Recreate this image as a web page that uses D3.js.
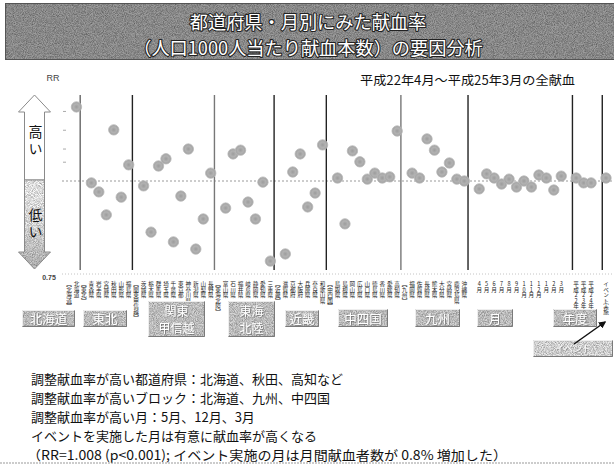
<!DOCTYPE html>
<html><head><meta charset="utf-8">
<script src="https://cdn.jsdelivr.net/npm/d3@7/dist/d3.min.js"></script>
<style>
html,body{margin:0;padding:0;background:#fff;}
svg{display:block;font-family:"Noto Sans CJK JP","Noto Sans",sans-serif;}
</style></head><body>
<svg id="chart" width="614" height="466"></svg>
<script>
// ---- data ----
const titleLines = ["都道府県・月別にみた献血率", "（人口1000人当たり献血本数）の要因分析"];
const periodNote = "平成22年4月～平成25年3月の全献血";
const blockNames = ["北海道", "東北", "関東甲信越", "東海北陸", "近畿", "中四国", "九州"];
const blockPrefs = [
  ["北海道"],
  ["青森", "岩手", "宮城", "秋田", "山形", "福島"],
  ["茨城", "栃木", "群馬", "埼玉", "千葉", "東京", "神奈川", "新潟", "山梨", "長野"],
  ["富山", "石川", "福井", "岐阜", "静岡", "愛知", "三重"],
  ["滋賀", "京都", "大阪", "兵庫", "奈良", "和歌山"],
  ["鳥取", "島根", "岡山", "広島", "山口", "徳島", "香川", "愛媛", "高知"],
  ["福岡", "佐賀", "長崎", "熊本", "大分", "宮崎", "鹿児島", "沖縄"]
];
const prefRR = [
  1.197,
  0.995, 0.971, 0.910, 1.136, 0.957, 1.043,
  0.987, 0.864, 1.040, 1.059, 0.838, 0.960, 1.085, 0.819, 0.899, 1.021,
  0.928, 1.072, 1.082, 0.944, 0.899, 0.997, 0.787,
  0.806, 1.024, 1.072, 0.931, 0.968, 1.096,
  1.008, 0.886, 1.080, 1.051, 1.005, 1.021, 1.008, 1.011, 1.133,
  1.021, 1.008, 1.112, 1.082, 1.024, 1.048, 1.005, 1.000
];
const monthNames = ["4月", "5月", "6月", "7月", "8月", "9月", "10月", "11月", "12月", "1月", "2月", "3月"];
const monthRR = [0.979, 1.019, 1.008, 0.992, 1.005, 0.984, 1.000, 0.984, 1.016, 1.008, 0.976, 1.013];
const yearNames = ["平成22年度", "平成23年度", "平成24年度"];
const yearRR = [1.008, 0.995, 0.995];
const eventName = "イベント実施";
const eventRR = 1.008;
const yDomain = [0.75, 1.25];
const yMinorTicks = [1.05, 1.085, 1.135, 1.185];
const bottomTickLabel = "0.75";
const arrowWords = ["高い", "低い"];
const tagNames = ["北海道", "東北", "関東\n甲信越", "東海\n北陸", "近畿", "中四国", "九州", "月", "年度"];
const eventTag = "イベント";
const summaryLines = [
  "調整献血率が高い都道府県：北海道、秋田、高知など",
  "調整献血率が高いブロック：北海道、九州、中四国",
  "調整献血率が高い月：5月、12月、3月",
  "イベントを実施した月は有意に献血率が高くなる",
  "（RR=1.008 (p<0.001); イベント実施の月は月間献血者数が 0.8% 増加した）"
];

// ---- category axis: block headers, prefectures, months, years, event ----
const cats = [];
let pi = 0;
blockNames.forEach((b, bi) => {
  cats.push({id: "h" + bi, label: "【" + b + "】", rr: null, sep: bi > 0});
  blockPrefs[bi].forEach(p => {
    const suffix = p === "北海道" ? "" : (p === "東京" ? "都" : (p === "京都" || p === "大阪" ? "府" : "県"));
    cats.push({id: "p" + pi, label: p + suffix, rr: prefRR[pi]});
    pi++;
  });
});
cats.push({id: "gm", label: "", rr: null, sep: true});
monthNames.forEach((m, i) => cats.push({id: "m" + i, label: m, rr: monthRR[i]}));
cats.push({id: "gy", label: "", rr: null});
yearNames.forEach((y, i) => cats.push({id: "y" + i, label: y, rr: yearRR[i], sep: i === 0}));
cats.push({id: "ge", label: "", rr: null});
cats.push({id: "ev", label: eventName, rr: eventRR, sep: true});

const svg = d3.select("#chart");
const defs = svg.append("defs");

// fine grain texture for the shaded panels
const grain = defs.append("filter").attr("id", "grain")
  .attr("x", "0%").attr("y", "0%").attr("width", "100%").attr("height", "100%")
  .attr("color-interpolation-filters", "sRGB");
grain.append("feTurbulence").attr("type", "fractalNoise").attr("baseFrequency", 1.1)
  .attr("numOctaves", 2).attr("seed", 4).attr("result", "noise");
grain.append("feColorMatrix").attr("in", "noise").attr("type", "saturate").attr("values", 0).attr("result", "gray");
const ct = grain.append("feComponentTransfer").attr("in", "gray").attr("result", "g2");
["feFuncR", "feFuncG", "feFuncB"].forEach(f => ct.append(f).attr("type", "linear").attr("slope", 0.9).attr("intercept", 0.42));
ct.append("feFuncA").attr("type", "linear").attr("slope", 0).attr("intercept", 1);
grain.append("feBlend").attr("in", "SourceGraphic").attr("in2", "g2").attr("mode", "multiply").attr("result", "b");
grain.append("feComposite").attr("in", "b").attr("in2", "SourceGraphic").attr("operator", "in");

// soft shadow under the tag captions
const shade = defs.append("filter").attr("id", "shade").attr("x", "-20%").attr("y", "-30%").attr("width", "140%").attr("height", "160%");
shade.append("feDropShadow").attr("dx", 0.7).attr("dy", 0.7).attr("stdDeviation", 0.3)
  .attr("flood-color", "#6e6e6e").attr("flood-opacity", 1);

const dotGrad = defs.append("radialGradient").attr("id", "dotGrad");
dotGrad.append("stop").attr("offset", "0%").attr("stop-color", "#9c9c9c");
dotGrad.append("stop").attr("offset", "55%").attr("stop-color", "#b2b2b2");
dotGrad.append("stop").attr("offset", "100%").attr("stop-color", "#a0a0a0");

const lowGrad = defs.append("linearGradient").attr("id", "lowGrad").attr("x1", 0).attr("y1", 0).attr("x2", 0).attr("y2", 1);
lowGrad.append("stop").attr("offset", "0%").attr("stop-color", "#ffffff");
lowGrad.append("stop").attr("offset", "45%").attr("stop-color", "#f6f6f6");
lowGrad.append("stop").attr("offset", "100%").attr("stop-color", "#c4c4c4");

// ---- title banner ----
svg.append("rect").attr("x", 5).attr("y", 3).attr("width", 614).attr("height", 57)
  .attr("fill", "#9c9c9c").attr("filter", "url(#grain)");
svg.append("rect").attr("x", 5.5).attr("y", 3.5).attr("width", 614).attr("height", 56)
  .attr("fill", "none").attr("stroke", "#555").attr("stroke-width", 1);
svg.selectAll("text.title").data(titleLines).join("text").attr("class", "title")
  .attr("x", 308).attr("y", (d, i) => 20.5 + i * 26.5)
  .attr("text-anchor", "middle").attr("dominant-baseline", "central")
  .attr("font-size", 18.2).attr("fill", "#fff").attr("stroke", "#222").attr("stroke-width", 2.2)
  .attr("paint-order", "stroke").attr("stroke-linejoin", "round").text(d => d);

// ---- scales ----
const x = d3.scalePoint().domain(cats.map(c => c.id)).range([69, 606]);
const y = d3.scaleLinear().domain(yDomain).range([275, 87]);

// headings
svg.append("text").attr("x", 53).attr("y", 78).attr("text-anchor", "middle").attr("dominant-baseline", "central")
  .attr("font-size", 9).attr("fill", "#444").attr("font-family", "Liberation Sans, Arial, sans-serif").text("RR");
svg.append("text").attr("x", 360).attr("y", 79).attr("dominant-baseline", "central")
  .attr("font-size", 12.5).attr("fill", "#111").attr("textLength", 215).attr("lengthAdjust", "spacingAndGlyphs")
  .text(periodNote);

// ---- high/low arrow ----
const ax = 34.5, aTop = 95, aHead = 112, aMid = 180, aLowHead = 252, aBot = 269, hw = 16, sw = 10;
const lowPath = `M${ax - sw},${aMid}L${ax + sw},${aMid}L${ax + sw},${aLowHead}L${ax + hw},${aLowHead}L${ax},${aBot}L${ax - hw},${aLowHead}L${ax - sw},${aLowHead}Z`;
svg.append("path").attr("d", `M${ax},${aTop}L${ax + hw},${aHead}L${ax + sw},${aHead}L${ax + sw},${aMid}L${ax - sw},${aMid}L${ax - sw},${aHead}L${ax - hw},${aHead}Z`)
  .attr("fill", "#fff").attr("stroke", "#8a8a8a").attr("stroke-width", 1);
svg.append("path").attr("d", lowPath).attr("fill", "url(#lowGrad)").attr("filter", "url(#grain)");
svg.append("path").attr("d", lowPath).attr("fill", "none").attr("stroke", "#8a8a8a").attr("stroke-width", 1);
svg.selectAll("text.hilo").data(arrowWords).join("text").attr("class", "hilo")
  .attr("x", ax + 1).attr("y", (d, i) => i === 0 ? 125 : 208)
  .style("writing-mode", "vertical-rl").style("text-orientation", "upright")
  .attr("font-size", 14).attr("letter-spacing", 2.5).attr("fill", "#111").text(d => d);

// ---- reference lines and ticks ----
svg.append("line").attr("x1", 62).attr("x2", 614).attr("y1", y(1)).attr("y2", y(1))
  .attr("stroke", "#9a9a9a").attr("stroke-width", 1).attr("stroke-dasharray", "2,2");
svg.append("line").attr("x1", 62).attr("x2", 614).attr("y1", y(yDomain[0]) - 1).attr("y2", y(yDomain[0]) - 1)
  .attr("stroke", "#c4c4c4").attr("stroke-width", 1).attr("stroke-dasharray", "1,2");
svg.selectAll("line.ytick").data(yMinorTicks).join("line").attr("class", "ytick")
  .attr("x1", 63).attr("x2", 66).attr("y1", d => y(d)).attr("y2", d => y(d))
  .attr("stroke", "#aaa").attr("stroke-width", 1);
svg.append("text").attr("x", 49).attr("y", y(yDomain[0]) + 2).attr("text-anchor", "middle").attr("dominant-baseline", "central")
  .attr("font-size", 7).attr("font-weight", "bold").attr("fill", "#444").attr("font-family", "Liberation Sans, Arial, sans-serif")
  .text(bottomTickLabel);

// ---- group separators ----
const step = x.step();
const sepCats = cats.filter(c => c.sep);
const sepShade = ["#666", "#222", "#777", "#222", "#222", "#777", "#222", "#222", "#222"];
svg.selectAll("line.sep").data(sepCats).join("line").attr("class", "sep")
  .attr("x1", d => x(d.id) - step / 2).attr("x2", d => x(d.id) - step / 2)
  .attr("y1", 95).attr("y2", 270)
  .attr("stroke", (d, i) => sepShade[i]).attr("stroke-width", 1.4);

// ---- points ----
svg.selectAll("circle.pt").data(cats.filter(c => c.rr !== null)).join("circle").attr("class", "pt")
  .attr("cx", d => x(d.id)).attr("cy", d => y(d.rr)).attr("r", 5.2)
  .attr("fill", "url(#dotGrad)").attr("stroke", "#b9b9b9").attr("stroke-width", 0.8);

// ---- category labels (vertical) ----
svg.selectAll("text.cat").data(cats.filter(c => c.label)).join("text").attr("class", "cat")
  .attr("x", d => x(d.id)).attr("y", 281)
  .style("writing-mode", "vertical-rl").style("text-orientation", "upright")
  .attr("font-size", 5.6).attr("fill", "#222").text(d => d.label);

// ---- group tags ----
const tagBoxes = [
  [22, 310, 53, 17], [83, 310, 44, 17], [148, 301, 57, 36], [228, 301, 47, 36], [285, 310, 34, 17],
  [338, 309, 50, 18], [415, 309, 45, 18], [477, 309, 36, 18], [553, 309, 44, 18]
];
function drawTag(g, bx, by, bw, bh, label, fs, base) {
  g.append("rect").attr("x", bx).attr("y", by).attr("width", bw).attr("height", bh)
    .attr("fill", base).attr("filter", "url(#grain)");
  g.append("path").attr("d", `M${bx + 0.5},${by + bh - 0.5}V${by + 0.5}H${bx + bw - 0.5}`)
    .attr("fill", "none").attr("stroke", "#eee").attr("stroke-width", 1);
  g.append("path").attr("d", `M${bx + 0.5},${by + bh - 0.5}H${bx + bw - 0.5}V${by + 0.5}`)
    .attr("fill", "none").attr("stroke", "#7a7a7a").attr("stroke-width", 1);
  const lines = label.split("\n");
  const size = lines.length > 1 ? fs - 0.5 : fs;
  lines.forEach((ln, i) => {
    g.append("text").attr("x", bx + bw / 2)
      .attr("y", by + bh / 2 + (i - (lines.length - 1) / 2) * 17.5)
      .attr("text-anchor", "middle").attr("dominant-baseline", "central")
      .attr("font-size", size).attr("fill", "#fff").attr("filter", "url(#shade)").text(ln);
  });
}
const tagLayer = svg.append("g");
tagNames.forEach((t, i) => {
  const [bx, by, bw, bh] = tagBoxes[i];
  drawTag(tagLayer, bx, by, bw, bh, t, 12.5, "#d6d6d6");
});
drawTag(tagLayer, 533, 340, 80, 17, eventTag, 9, "#ececec");

// arrow from the event tag to its column
defs.append("marker").attr("id", "head").attr("viewBox", "0 0 10 10").attr("refX", 8).attr("refY", 5)
  .attr("markerWidth", 5).attr("markerHeight", 5).attr("orient", "auto")
  .append("path").attr("d", "M0,0L10,5L0,10Z").attr("fill", "#111");
svg.append("line").attr("x1", 574).attr("y1", 344).attr("x2", x("ev") - 1).attr("y2", 322)
  .attr("stroke", "#111").attr("stroke-width", 1.5).attr("marker-end", "url(#head)");

// ---- summary text ----
svg.selectAll("text.sum").data(summaryLines).join("text").attr("class", "sum")
  .attr("x", (d, i) => i === 4 ? 27 : 31).attr("y", (d, i) => 378 + i * 19)
  .attr("dominant-baseline", "central").attr("font-size", 13).attr("fill", "#111")
  .each(function (d, i) {
    if (i === 4) d3.select(this).attr("textLength", 480).attr("lengthAdjust", "spacingAndGlyphs");
  })
  .text(d => d);
svg.append("line").attr("x1", 0).attr("x2", 614).attr("y1", 463).attr("y2", 463)
  .attr("stroke", "#999").attr("stroke-width", 1).attr("stroke-dasharray", "2,1");
</script>
</body></html>
